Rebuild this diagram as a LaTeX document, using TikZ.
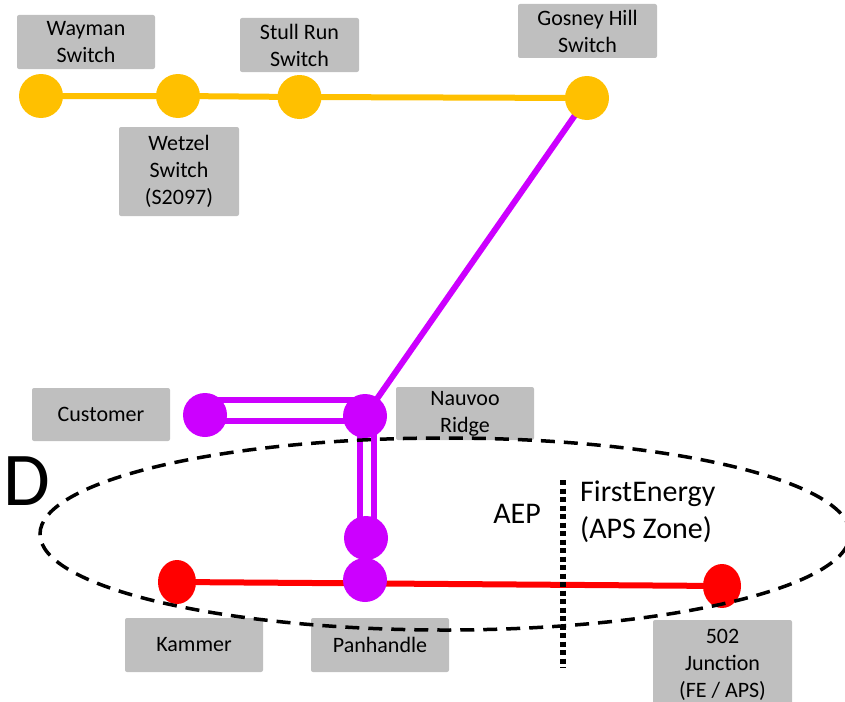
\documentclass[tikz,border=0pt]{standalone}
\usepackage{fontspec}
\setmainfont{Carlito}
\usetikzlibrary{shapes.geometric}
\definecolor{boxgray}{HTML}{BFBFBF}
\definecolor{orng}{HTML}{FFC000}
\definecolor{purp}{HTML}{CC00FF}
\definecolor{rred}{HTML}{FF0000}
\tikzset{
  lbl/.style={fill=boxgray, rounded corners=2pt, align=center, inner sep=0pt,
    font=\fontsize{22}{27}\selectfont, text=black},
  dotnode/.style={circle, inner sep=0pt, minimum size=44pt},
  rednode/.style={ellipse, fill=rred, inner sep=0pt, minimum width=38pt, minimum height=44pt},
  oline/.style={draw=orng, line width=6pt},
  pline/.style={draw=purp, line width=6pt},
  rline/.style={draw=rred, line width=6pt},
  zone/.style={draw=black, dash pattern=on 14pt off 9pt, line width=3.5pt, ellipse, inner sep=0pt},
  border/.style={draw=black, line width=5.5pt, dash pattern=on 5pt off 3.5pt},
  big/.style={font=\fontsize{30}{37}\selectfont, inner sep=0pt}
}
\begin{document}
\begin{tikzpicture}[x=1pt,y=-1pt]
\useasboundingbox (0,0) rectangle (845,701);
% label boxes
\node[lbl, minimum width=138pt, minimum height=54pt] (wayL) at (86,42) {Wayman\\Switch};
\node[lbl, minimum width=119pt, minimum height=54pt] (stullL) at (299.5,45) {Stull Run\\Switch};
\node[lbl, minimum width=139pt, minimum height=54pt] (gosL) at (587.5,31) {Gosney Hill\\Switch};
\node[lbl, minimum width=120pt, minimum height=89pt] (wetL) at (179,171.5) {Wetzel\\Switch\\(S2097)};
\node[lbl, minimum width=138pt, minimum height=53pt] (custL) at (101,414.5) {Customer};
\node[lbl, minimum width=138pt, minimum height=53pt] (nauvL) at (465,413.5) {Nauvoo\\Ridge};
\node[lbl, minimum width=138pt, minimum height=54pt] (kamL) at (194,645) {Kammer};
\node[lbl, minimum width=138pt, minimum height=54pt] (panL) at (380,645) {Panhandle};
\node[lbl, minimum width=139pt, minimum height=89pt] (juncL) at (722.5,664.5) {502\\Junction\\(FE / APS)};
% station coordinates
\coordinate (wayC) at (41,96);
\coordinate (wetC) at (178,96);
\coordinate (stullC) at (299.5,97);
\coordinate (gosC) at (587,98);
\coordinate (custC) at (205,415);
\coordinate (nauvC) at (365,416);
\coordinate (midC) at (366,538);
\coordinate (panC) at (365,580);
\coordinate (kamC) at (177,582);
\coordinate (juncC) at (722,586);
% lines
\draw[oline] (wayC) -- (wetC) -- (stullC) -- (gosC);
\draw[pline] (gosC) -- (nauvC);
\draw[pline] ([yshift=15pt]custC) -- ([yshift=16pt]nauvC);
\draw[pline] ([yshift=-6pt]custC) -- ([yshift=-5pt]nauvC);
\draw[pline] ([xshift=-5.5pt]nauvC) -- ([xshift=-6.5pt]midC);
\draw[pline] ([xshift=8.5pt]nauvC) -- ([xshift=7.5pt]midC);
\draw[rline] (kamC) -- (juncC);
% stations
\node[dotnode, fill=orng] (way) at (wayC) {};
\node[dotnode, fill=orng] (wet) at (wetC) {};
\node[dotnode, fill=orng] (stull) at (stullC) {};
\node[dotnode, fill=orng] (gos) at (gosC) {};
\node[dotnode, fill=purp] (cust) at (custC) {};
\node[dotnode, fill=purp] (nauv) at (nauvC) {};
\node[dotnode, fill=purp] (mid) at (midC) {};
\node[dotnode, fill=purp] (pan) at (panC) {};
\node[rednode] (kam) at (kamC) {};
\node[rednode] (junc) at (juncC) {};
% zone ellipse and border
\node[zone, minimum width=810pt, minimum height=192pt] (zoneE) at (445,534) {};
\coordinate (bTop) at (563,480);
\coordinate (bBot) at (563,668);
\draw[border] (bTop) -- (bBot);
% texts
\node[big, anchor=base] (aep) at (517,523) {AEP};
\node[big, anchor=base west, align=left] (fe) at (580,538) {FirstEnergy\\(APS Zone)};
\node[anchor=base west, inner sep=0pt, font=\fontsize{76}{76}\selectfont] (ed) at (3.5,505) {D};
\end{tikzpicture}
\end{document}
